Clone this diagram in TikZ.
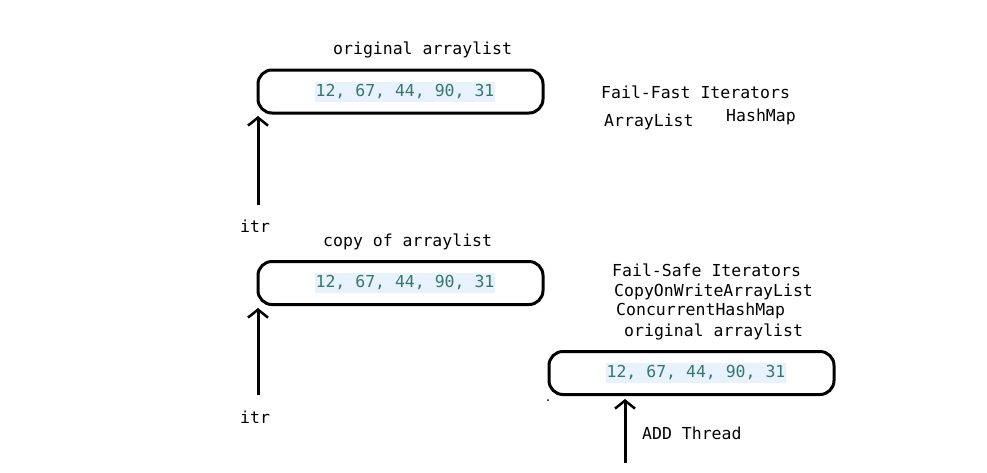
\documentclass[tikz,border=0pt]{standalone}
\usepackage{fontspec}
\setmonofont{DejaVu Sans Mono}
\usetikzlibrary{arrows.meta}
\definecolor{numfg}{RGB}{55,120,110}
\definecolor{numbg}{RGB}{232,242,252}
\tikzset{
  lbl/.style={font=\ttfamily\fontsize{16.5}{18}\selectfont, text=black, inner sep=0pt, anchor=west},
  nums/.style={font=\ttfamily\fontsize{16.5}{18}\selectfont, text=numfg, fill=numbg, inner xsep=1pt, inner ysep=3pt},
  listbox/.style={draw=black, line width=3pt, rounded corners=14pt, minimum width=285pt, minimum height=43pt, inner sep=0pt},
  uparrow/.style={line width=3pt, -{Straight Barb[length=8pt,width=20pt,line width=2.5pt]}}
}
\begin{document}
\begin{tikzpicture}[x=1pt,y=-1pt]
\useasboundingbox (0,0) rectangle (987,472);
% top
\node[lbl] (t1) at (333,50) {original arraylist};
\node[listbox] (b1) at (400.5,91.5) {};
\node[nums] (n1) at (405,92) {12, 67, 44, 90, 31};
\coordinate (a1s) at (258,205);
\coordinate (a1e) at (258,116);
\draw[uparrow] (a1s) -- (a1e);
\node[lbl] (i1) at (240,226) {itr};
\node[lbl] (ff) at (601,92) {Fail-Fast Iterators};
\node[lbl] (al) at (604,122) {ArrayList};
\node[lbl] (hm) at (726,117) {HashMap};
% middle
\node[lbl] (t2) at (323,242) {copy of arraylist};
\node[listbox] (b2) at (400.5,283) {};
\node[nums] (n2) at (405,283) {12, 67, 44, 90, 31};
\coordinate (a2s) at (258,395);
\coordinate (a2e) at (258,308);
\draw[uparrow] (a2s) -- (a2e);
\node[lbl] (i2) at (240,417) {itr};
\node[lbl] (fs) at (612,270) {Fail-Safe Iterators};
\node[lbl] (cw) at (614,292) {CopyOnWriteArrayList};
\node[lbl] (ch) at (616,311) {ConcurrentHashMap};
\node[lbl] (t3) at (624,332) {original arraylist};
% bottom right
\node[listbox] (b3) at (691.5,373) {};
\node[nums] (n3) at (696,373) {12, 67, 44, 90, 31};
\fill (548,400) circle (1pt);
\coordinate (a3s) at (625,463);
\coordinate (a3e) at (625,399);
\draw[uparrow] (a3s) -- (a3e);
\node[lbl] (ad) at (642,433) {ADD Thread};
\end{tikzpicture}
\end{document}
